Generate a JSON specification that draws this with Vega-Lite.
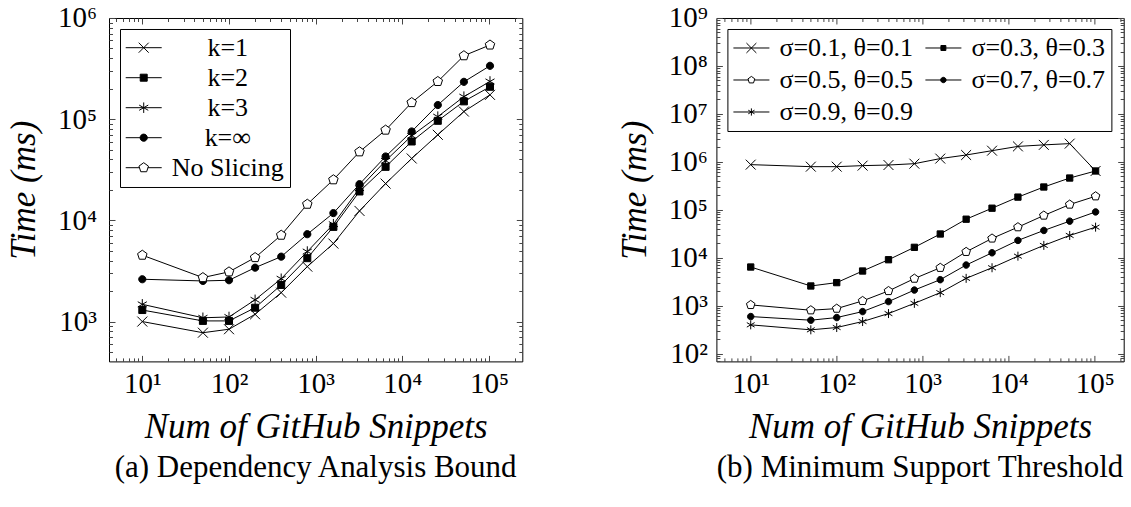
{
  "$schema": "https://vega.github.io/schema/vega-lite/v6.json",
  "background": "white",
  "padding": {"left": 5, "top": 3, "right": 0, "bottom": 4},
  "bounds": "flush",
  "spacing": 193.4,
  "config": {
    "font": "Liberation Serif",
    "view": {"stroke": "black", "strokeWidth": 1},
    "axis": {
      "domain": false, "grid": false,
      "labelFont": "Liberation Serif", "labelFontSize": 29, "labelColor": "black",
      "labelFlush": false, "labelOverlap": false,
      "tickColor": "#444", "tickWidth": 1,
      "titleFont": "Liberation Serif", "titleFontSize": 35, "titleFontStyle": "italic", "titleFontWeight": "normal", "titleColor": "black"
    },
    "legend": {"labelFont": "Liberation Serif", "labelColor": "black", "labelLimit": 400},
    "title": {"font": "Liberation Serif", "fontSize": 31, "fontWeight": "normal", "color": "black"}
  },
  "hconcat": [
    {
      "width": 413.3,
      "height": 343.4,
      "title": {"text": "(a) Dependency Analysis Bound", "orient": "bottom", "anchor": "middle", "frame": "group", "offset": 9},
      "data": {"values": [
        {"n": 10, "t": 1000, "s": "k=1"}, {"n": 50, "t": 776, "s": "k=1"}, {"n": 100, "t": 840, "s": "k=1"}, {"n": 200, "t": 1180, "s": "k=1"}, {"n": 400, "t": 1930, "s": "k=1"}, {"n": 800, "t": 3490, "s": "k=1"}, {"n": 1600, "t": 5900, "s": "k=1"}, {"n": 3200, "t": 12400, "s": "k=1"}, {"n": 6400, "t": 23100, "s": "k=1"}, {"n": 12800, "t": 40900, "s": "k=1"}, {"n": 25600, "t": 70100, "s": "k=1"}, {"n": 51200, "t": 119000, "s": "k=1"}, {"n": 102400, "t": 174000, "s": "k=1"},
        {"n": 10, "t": 1300, "s": "k=2"}, {"n": 50, "t": 1015, "s": "k=2"}, {"n": 100, "t": 1015, "s": "k=2"}, {"n": 200, "t": 1370, "s": "k=2"}, {"n": 400, "t": 2300, "s": "k=2"}, {"n": 800, "t": 4230, "s": "k=2"}, {"n": 1600, "t": 8620, "s": "k=2"}, {"n": 3200, "t": 19300, "s": "k=2"}, {"n": 6400, "t": 33800, "s": "k=2"}, {"n": 12800, "t": 60200, "s": "k=2"}, {"n": 25600, "t": 96400, "s": "k=2"}, {"n": 51200, "t": 150000, "s": "k=2"}, {"n": 102400, "t": 209000, "s": "k=2"},
        {"n": 10, "t": 1480, "s": "k=3"}, {"n": 50, "t": 1090, "s": "k=3"}, {"n": 100, "t": 1110, "s": "k=3"}, {"n": 200, "t": 1640, "s": "k=3"}, {"n": 400, "t": 2650, "s": "k=3"}, {"n": 800, "t": 4920, "s": "k=3"}, {"n": 1600, "t": 9170, "s": "k=3"}, {"n": 3200, "t": 20800, "s": "k=3"}, {"n": 6400, "t": 38800, "s": "k=3"}, {"n": 12800, "t": 68600, "s": "k=3"}, {"n": 25600, "t": 106000, "s": "k=3"}, {"n": 51200, "t": 167000, "s": "k=3"}, {"n": 102400, "t": 236000, "s": "k=3"},
        {"n": 10, "t": 2620, "s": "k=∞"}, {"n": 50, "t": 2520, "s": "k=∞"}, {"n": 100, "t": 2560, "s": "k=∞"}, {"n": 200, "t": 3410, "s": "k=∞"}, {"n": 400, "t": 4380, "s": "k=∞"}, {"n": 800, "t": 7300, "s": "k=∞"}, {"n": 1600, "t": 11800, "s": "k=∞"}, {"n": 3200, "t": 22800, "s": "k=∞"}, {"n": 6400, "t": 42800, "s": "k=∞"}, {"n": 12800, "t": 75600, "s": "k=∞"}, {"n": 25600, "t": 138000, "s": "k=∞"}, {"n": 51200, "t": 234000, "s": "k=∞"}, {"n": 102400, "t": 337000, "s": "k=∞"},
        {"n": 10, "t": 4530, "s": "No Slicing"}, {"n": 50, "t": 2720, "s": "No Slicing"}, {"n": 100, "t": 3100, "s": "No Slicing"}, {"n": 200, "t": 4290, "s": "No Slicing"}, {"n": 400, "t": 7140, "s": "No Slicing"}, {"n": 800, "t": 14450, "s": "No Slicing"}, {"n": 1600, "t": 25200, "s": "No Slicing"}, {"n": 3200, "t": 47600, "s": "No Slicing"}, {"n": 6400, "t": 78000, "s": "No Slicing"}, {"n": 12800, "t": 146000, "s": "No Slicing"}, {"n": 25600, "t": 236000, "s": "No Slicing"}, {"n": 51200, "t": 424000, "s": "No Slicing"}, {"n": 102400, "t": 541000, "s": "No Slicing"}
      ]},
      "resolve": {
        "scale": {"shape": "independent", "fill": "independent"},
        "axis": {"x": "independent", "y": "independent"},
        "legend": {"shape": "independent", "fill": "independent"}
      },
      "layer": [
        {
          "mark": {"type": "line", "color": "black", "strokeWidth": 1},
          "encoding": {
            "x": {"field": "n", "type": "quantitative", "scale": {"type": "log", "domain": [4.13, 241500]},
              "axis": {"orient": "bottom", "values": [5,6,7,8,9,10,20,30,40,50,60,70,80,90,100,200,300,400,500,600,700,800,900,1000,2000,3000,4000,5000,6000,7000,8000,9000,10000,20000,30000,40000,50000,60000,70000,80000,90000,100000,200000],
                "labelExpr": "abs(log(datum.value)/LN10 - round(log(datum.value)/LN10)) < 0.001 ? '10' + ['⁰','¹','²','³','⁴','⁵','⁶','⁷','⁸','⁹'][round(log(datum.value)/LN10)] : ''",
                "tickSize": {"condition": {"test": "abs(log(datum.value)/LN10 - round(log(datum.value)/LN10)) < 0.001", "value": -6}, "value": -3.5},
                "labelPadding": 14.5, "title": "Num of GitHub Snippets", "titlePadding": 8}},
            "y": {"field": "t", "type": "quantitative", "scale": {"type": "log", "domain": [404, 1000000]},
              "axis": {"orient": "left", "values": [500,600,700,800,900,1000,2000,3000,4000,5000,6000,7000,8000,9000,10000,20000,30000,40000,50000,60000,70000,80000,90000,100000,200000,300000,400000,500000,600000,700000,800000,900000,1000000],
                "labelExpr": "abs(log(datum.value)/LN10 - round(log(datum.value)/LN10)) < 0.001 ? '10' + ['⁰','¹','²','³','⁴','⁵','⁶','⁷','⁸','⁹'][round(log(datum.value)/LN10)] : ''",
                "tickSize": {"condition": {"test": "abs(log(datum.value)/LN10 - round(log(datum.value)/LN10)) < 0.001", "value": -6}, "value": -3.5},
                "labelPadding": 18.5, "title": "Time (ms)", "titlePadding": 16}},
            "detail": {"field": "s", "type": "nominal"}
          }
        },
        {
          "mark": {"type": "point", "filled": true, "stroke": "black", "strokeWidth": 1, "opacity": 1, "size": 100},
          "encoding": {
            "x": {"field": "n", "type": "quantitative", "scale": {"type": "log", "domain": [4.13, 241500]},
              "axis": {"orient": "top", "labels": false, "title": null, "values": [5,6,7,8,9,10,20,30,40,50,60,70,80,90,100,200,300,400,500,600,700,800,900,1000,2000,3000,4000,5000,6000,7000,8000,9000,10000,20000,30000,40000,50000,60000,70000,80000,90000,100000,200000],
                "tickSize": {"condition": {"test": "abs(log(datum.value)/LN10 - round(log(datum.value)/LN10)) < 0.001", "value": -6}, "value": -3.5}}},
            "y": {"field": "t", "type": "quantitative", "scale": {"type": "log", "domain": [404, 1000000]},
              "axis": {"orient": "right", "labels": false, "title": null, "values": [500,600,700,800,900,1000,2000,3000,4000,5000,6000,7000,8000,9000,10000,20000,30000,40000,50000,60000,70000,80000,90000,100000,200000,300000,400000,500000,600000,700000,800000,900000,1000000],
                "tickSize": {"condition": {"test": "abs(log(datum.value)/LN10 - round(log(datum.value)/LN10)) < 0.001", "value": -6}, "value": -3.5}}},
            "shape": {"field": "s", "type": "nominal", "legend": null,
              "scale": {"domain": ["k=1", "k=2", "k=3", "k=∞", "No Slicing"],
                "range": ["M-1,-1L1,1M-1,1L1,-1", "M-0.7,-0.7H0.7V0.7H-0.7Z", "M0,-1.05V1.05M-0.91,-0.525L0.91,0.525M-0.91,0.525L0.91,-0.525", "M-0.72,0A0.72,0.72,0,1,1,0.72,0A0.72,0.72,0,1,1,-0.72,0Z", "M0,-1L0.951,-0.309L0.588,0.809L-0.588,0.809L-0.951,-0.309Z"]}},
            "fill": {"field": "s", "type": "nominal", "legend": null,
              "scale": {"domain": ["k=1", "k=2", "k=3", "k=∞", "No Slicing"], "range": ["black", "black", "black", "black", "white"]}}
          }
        },
        {
          "mark": {"type": "point", "filled": true, "stroke": "black", "strokeWidth": 1, "opacity": 0, "size": 100},
          "encoding": {
            "x": {"field": "n", "type": "quantitative", "scale": {"type": "log", "domain": [4.13, 241500]}, "axis": null},
            "y": {"field": "t", "type": "quantitative", "scale": {"type": "log", "domain": [404, 1000000]}, "axis": null},
            "shape": {"field": "s", "type": "nominal",
              "scale": {"domain": ["k=1", "k=2", "k=3", "k=∞", "No Slicing"],
                "range": ["M-3.6,0H3.6M-1,-1L1,1M-1,1L1,-1", "M-3.6,0H3.6M-0.7,-0.7H0.7V0.7H-0.7Z", "M-3.6,0H3.6M0,-1.05V1.05M-0.91,-0.525L0.91,0.525M-0.91,0.525L0.91,-0.525", "M-3.6,0H3.6M-0.72,0A0.72,0.72,0,1,1,0.72,0A0.72,0.72,0,1,1,-0.72,0Z", "M-3.6,0H-0.85M0.85,0H3.6M0,-1L0.951,-0.309L0.588,0.809L-0.588,0.809L-0.951,-0.309Z"]},
              "legend": {"title": null, "orient": "top-left", "offset": 11, "strokeColor": "black", "fillColor": "white", "padding": 5.7, "rowPadding": 4,
                "symbolSize": 100, "symbolStrokeWidth": 1, "symbolOpacity": 1, "symbolOffset": 5,
                "labelFontSize": 26, "labelAlign": "center", "labelOffset": 71}},
            "fill": {"field": "s", "type": "nominal",
              "scale": {"domain": ["k=1", "k=2", "k=3", "k=∞", "No Slicing"], "range": ["black", "black", "black", "black", "white"]},
              "legend": {"title": null, "orient": "top-left", "offset": 11, "strokeColor": "black", "fillColor": "white", "padding": 5.7, "rowPadding": 4,
                "symbolSize": 100, "symbolStrokeWidth": 1, "symbolOpacity": 1, "symbolOffset": 5,
                "labelFontSize": 26, "labelAlign": "center", "labelOffset": 71}}
          }
        }
      ]
    },
    {
      "width": 407.3,
      "height": 343.4,
      "title": {"text": "(b) Minimum Support Threshold", "orient": "bottom", "anchor": "middle", "frame": "group", "offset": 9},
      "data": {"values": [
        {"n": 10, "t": 875000, "s": "σ=0.1, θ=0.1"}, {"n": 50, "t": 794000, "s": "σ=0.1, θ=0.1"}, {"n": 100, "t": 794000, "s": "σ=0.1, θ=0.1"}, {"n": 200, "t": 834000, "s": "σ=0.1, θ=0.1"}, {"n": 400, "t": 859000, "s": "σ=0.1, θ=0.1"}, {"n": 800, "t": 916000, "s": "σ=0.1, θ=0.1"}, {"n": 1600, "t": 1170000, "s": "σ=0.1, θ=0.1"}, {"n": 3200, "t": 1390000, "s": "σ=0.1, θ=0.1"}, {"n": 6400, "t": 1710000, "s": "σ=0.1, θ=0.1"}, {"n": 12800, "t": 2100000, "s": "σ=0.1, θ=0.1"}, {"n": 25600, "t": 2260000, "s": "σ=0.1, θ=0.1"}, {"n": 51200, "t": 2400000, "s": "σ=0.1, θ=0.1"}, {"n": 102400, "t": 645000, "s": "σ=0.1, θ=0.1"},
        {"n": 10, "t": 6410, "s": "σ=0.3, θ=0.3"}, {"n": 50, "t": 2580, "s": "σ=0.3, θ=0.3"}, {"n": 100, "t": 3030, "s": "σ=0.3, θ=0.3"}, {"n": 200, "t": 5290, "s": "σ=0.3, θ=0.3"}, {"n": 400, "t": 9100, "s": "σ=0.3, θ=0.3"}, {"n": 800, "t": 16500, "s": "σ=0.3, θ=0.3"}, {"n": 1600, "t": 31300, "s": "σ=0.3, θ=0.3"}, {"n": 3200, "t": 63700, "s": "σ=0.3, θ=0.3"}, {"n": 6400, "t": 108000, "s": "σ=0.3, θ=0.3"}, {"n": 12800, "t": 184000, "s": "σ=0.3, θ=0.3"}, {"n": 25600, "t": 299000, "s": "σ=0.3, θ=0.3"}, {"n": 51200, "t": 460000, "s": "σ=0.3, θ=0.3"}, {"n": 102400, "t": 645000, "s": "σ=0.3, θ=0.3"},
        {"n": 10, "t": 1040, "s": "σ=0.5, θ=0.5"}, {"n": 50, "t": 805, "s": "σ=0.5, θ=0.5"}, {"n": 100, "t": 870, "s": "σ=0.5, θ=0.5"}, {"n": 200, "t": 1260, "s": "σ=0.5, θ=0.5"}, {"n": 400, "t": 2030, "s": "σ=0.5, θ=0.5"}, {"n": 800, "t": 3680, "s": "σ=0.5, θ=0.5"}, {"n": 1600, "t": 6190, "s": "σ=0.5, θ=0.5"}, {"n": 3200, "t": 13300, "s": "σ=0.5, θ=0.5"}, {"n": 6400, "t": 25300, "s": "σ=0.5, θ=0.5"}, {"n": 12800, "t": 43500, "s": "σ=0.5, θ=0.5"}, {"n": 25600, "t": 76100, "s": "σ=0.5, θ=0.5"}, {"n": 51200, "t": 129000, "s": "σ=0.5, θ=0.5"}, {"n": 102400, "t": 192000, "s": "σ=0.5, θ=0.5"},
        {"n": 10, "t": 594, "s": "σ=0.7, θ=0.7"}, {"n": 50, "t": 499, "s": "σ=0.7, θ=0.7"}, {"n": 100, "t": 566, "s": "σ=0.7, θ=0.7"}, {"n": 200, "t": 755, "s": "σ=0.7, θ=0.7"}, {"n": 400, "t": 1220, "s": "σ=0.7, θ=0.7"}, {"n": 800, "t": 2120, "s": "σ=0.7, θ=0.7"}, {"n": 1600, "t": 3490, "s": "σ=0.7, θ=0.7"}, {"n": 3200, "t": 7050, "s": "σ=0.7, θ=0.7"}, {"n": 6400, "t": 12700, "s": "σ=0.7, θ=0.7"}, {"n": 12800, "t": 23000, "s": "σ=0.7, θ=0.7"}, {"n": 25600, "t": 37100, "s": "σ=0.7, θ=0.7"}, {"n": 51200, "t": 58000, "s": "σ=0.7, θ=0.7"}, {"n": 102400, "t": 90400, "s": "σ=0.7, θ=0.7"},
        {"n": 10, "t": 399, "s": "σ=0.9, θ=0.9"}, {"n": 50, "t": 314, "s": "σ=0.9, θ=0.9"}, {"n": 100, "t": 351, "s": "σ=0.9, θ=0.9"}, {"n": 200, "t": 468, "s": "σ=0.9, θ=0.9"}, {"n": 400, "t": 686, "s": "σ=0.9, θ=0.9"}, {"n": 800, "t": 1120, "s": "σ=0.9, θ=0.9"}, {"n": 1600, "t": 1870, "s": "σ=0.9, θ=0.9"}, {"n": 3200, "t": 3720, "s": "σ=0.9, θ=0.9"}, {"n": 6400, "t": 6190, "s": "σ=0.9, θ=0.9"}, {"n": 12800, "t": 10800, "s": "σ=0.9, θ=0.9"}, {"n": 25600, "t": 18100, "s": "σ=0.9, θ=0.9"}, {"n": 51200, "t": 29200, "s": "σ=0.9, θ=0.9"}, {"n": 102400, "t": 43500, "s": "σ=0.9, θ=0.9"}
      ]},
      "resolve": {
        "scale": {"shape": "independent", "fill": "independent"},
        "axis": {"x": "independent", "y": "independent"},
        "legend": {"shape": "independent", "fill": "independent"}
      },
      "layer": [
        {
          "mark": {"type": "line", "color": "black", "strokeWidth": 1},
          "encoding": {
            "x": {"field": "n", "type": "quantitative", "scale": {"type": "log", "domain": [3.99, 217300]},
              "axis": {"orient": "bottom", "values": [5,6,7,8,9,10,20,30,40,50,60,70,80,90,100,200,300,400,500,600,700,800,900,1000,2000,3000,4000,5000,6000,7000,8000,9000,10000,20000,30000,40000,50000,60000,70000,80000,90000,100000,200000],
                "labelExpr": "abs(log(datum.value)/LN10 - round(log(datum.value)/LN10)) < 0.001 ? '10' + ['⁰','¹','²','³','⁴','⁵','⁶','⁷','⁸','⁹'][round(log(datum.value)/LN10)] : ''",
                "tickSize": {"condition": {"test": "abs(log(datum.value)/LN10 - round(log(datum.value)/LN10)) < 0.001", "value": -6}, "value": -3.5},
                "labelPadding": 14.5, "title": "Num of GitHub Snippets", "titlePadding": 8}},
            "y": {"field": "t", "type": "quantitative", "scale": {"type": "log", "domain": [69, 1000000000]},
              "axis": {"orient": "left", "values": [70,80,90,100,200,300,400,500,600,700,800,900,1000,2000,3000,4000,5000,6000,7000,8000,9000,10000,20000,30000,40000,50000,60000,70000,80000,90000,100000,200000,300000,400000,500000,600000,700000,800000,900000,1000000,2000000,3000000,4000000,5000000,6000000,7000000,8000000,9000000,10000000,20000000,30000000,40000000,50000000,60000000,70000000,80000000,90000000,100000000,200000000,300000000,400000000,500000000,600000000,700000000,800000000,900000000,1000000000],
                "labelExpr": "abs(log(datum.value)/LN10 - round(log(datum.value)/LN10)) < 0.001 ? '10' + ['⁰','¹','²','³','⁴','⁵','⁶','⁷','⁸','⁹'][round(log(datum.value)/LN10)] : ''",
                "tickSize": {"condition": {"test": "abs(log(datum.value)/LN10 - round(log(datum.value)/LN10)) < 0.001", "value": -6}, "value": -3.5},
                "labelPadding": 15, "title": "Time (ms)", "titlePadding": 16}},
            "detail": {"field": "s", "type": "nominal"}
          }
        },
        {
          "mark": {"type": "point", "filled": true, "stroke": "black", "strokeWidth": 1, "opacity": 1, "size": 81},
          "encoding": {
            "x": {"field": "n", "type": "quantitative", "scale": {"type": "log", "domain": [3.99, 217300]},
              "axis": {"orient": "top", "labels": false, "title": null, "values": [5,6,7,8,9,10,20,30,40,50,60,70,80,90,100,200,300,400,500,600,700,800,900,1000,2000,3000,4000,5000,6000,7000,8000,9000,10000,20000,30000,40000,50000,60000,70000,80000,90000,100000,200000],
                "tickSize": {"condition": {"test": "abs(log(datum.value)/LN10 - round(log(datum.value)/LN10)) < 0.001", "value": -6}, "value": -3.5}}},
            "y": {"field": "t", "type": "quantitative", "scale": {"type": "log", "domain": [69, 1000000000]},
              "axis": {"orient": "right", "labels": false, "title": null, "values": [70,80,90,100,200,300,400,500,600,700,800,900,1000,2000,3000,4000,5000,6000,7000,8000,9000,10000,20000,30000,40000,50000,60000,70000,80000,90000,100000,200000,300000,400000,500000,600000,700000,800000,900000,1000000,2000000,3000000,4000000,5000000,6000000,7000000,8000000,9000000,10000000,20000000,30000000,40000000,50000000,60000000,70000000,80000000,90000000,100000000,200000000,300000000,400000000,500000000,600000000,700000000,800000000,900000000,1000000000],
                "tickSize": {"condition": {"test": "abs(log(datum.value)/LN10 - round(log(datum.value)/LN10)) < 0.001", "value": -6}, "value": -3.5}}},
            "shape": {"field": "s", "type": "nominal", "legend": null,
              "scale": {"domain": ["σ=0.1, θ=0.1", "σ=0.3, θ=0.3", "σ=0.5, θ=0.5", "σ=0.7, θ=0.7", "σ=0.9, θ=0.9"],
                "range": ["M-1.1,-1.1L1.1,1.1M-1.1,1.1L1.1,-1.1", "M-0.7,-0.7H0.7V0.7H-0.7Z", "M0,-1L0.951,-0.309L0.588,0.809L-0.588,0.809L-0.951,-0.309Z", "M-0.72,0A0.72,0.72,0,1,1,0.72,0A0.72,0.72,0,1,1,-0.72,0Z", "M0,-1V1M-0.866,-0.5L0.866,0.5M-0.866,0.5L0.866,-0.5"]}},
            "fill": {"field": "s", "type": "nominal", "legend": null,
              "scale": {"domain": ["σ=0.1, θ=0.1", "σ=0.3, θ=0.3", "σ=0.5, θ=0.5", "σ=0.7, θ=0.7", "σ=0.9, θ=0.9"], "range": ["black", "black", "white", "black", "black"]}}
          }
        },
        {
          "mark": {"type": "point", "filled": true, "stroke": "black", "strokeWidth": 1, "opacity": 0, "size": 81},
          "encoding": {
            "x": {"field": "n", "type": "quantitative", "scale": {"type": "log", "domain": [3.99, 217300]}, "axis": null},
            "y": {"field": "t", "type": "quantitative", "scale": {"type": "log", "domain": [69, 1000000000]}, "axis": null},
            "shape": {"field": "s", "type": "nominal",
              "scale": {"domain": ["σ=0.1, θ=0.1", "σ=0.3, θ=0.3", "σ=0.5, θ=0.5", "σ=0.7, θ=0.7", "σ=0.9, θ=0.9"],
                "range": ["M-4,0H4M-1.1,-1.1L1.1,1.1M-1.1,1.1L1.1,-1.1", "M-4,0H4M-0.55,-0.55H0.55V0.55H-0.55Z", "M-4,0H-0.7M0.7,0H4M0,-0.8L0.761,-0.247L0.47,0.647L-0.47,0.647L-0.761,-0.247Z", "M-4,0H4M-0.6,0A0.6,0.6,0,1,1,0.6,0A0.6,0.6,0,1,1,-0.6,0Z", "M-4,0H4M0,-0.8V0.8M-0.69,-0.4L0.69,0.4M-0.69,0.4L0.69,-0.4"]},
              "legend": {"title": null, "orient": "top-left", "offset": 11, "strokeColor": "black", "fillColor": "white", "padding": 6, "rowPadding": 6, "columns": 2, "direction": "horizontal", "columnPadding": 10,
                "symbolSize": 81, "symbolStrokeWidth": 1, "symbolOpacity": 1, "symbolOffset": 5,
                "labelFontSize": 26, "labelOffset": 15}},
            "fill": {"field": "s", "type": "nominal",
              "scale": {"domain": ["σ=0.1, θ=0.1", "σ=0.3, θ=0.3", "σ=0.5, θ=0.5", "σ=0.7, θ=0.7", "σ=0.9, θ=0.9"], "range": ["black", "black", "white", "black", "black"]},
              "legend": {"title": null, "orient": "top-left", "offset": 11, "strokeColor": "black", "fillColor": "white", "padding": 6, "rowPadding": 6, "columns": 2, "direction": "horizontal", "columnPadding": 10,
                "symbolSize": 81, "symbolStrokeWidth": 1, "symbolOpacity": 1, "symbolOffset": 5,
                "labelFontSize": 26, "labelOffset": 15}}
          }
        }
      ]
    }
  ]
}
